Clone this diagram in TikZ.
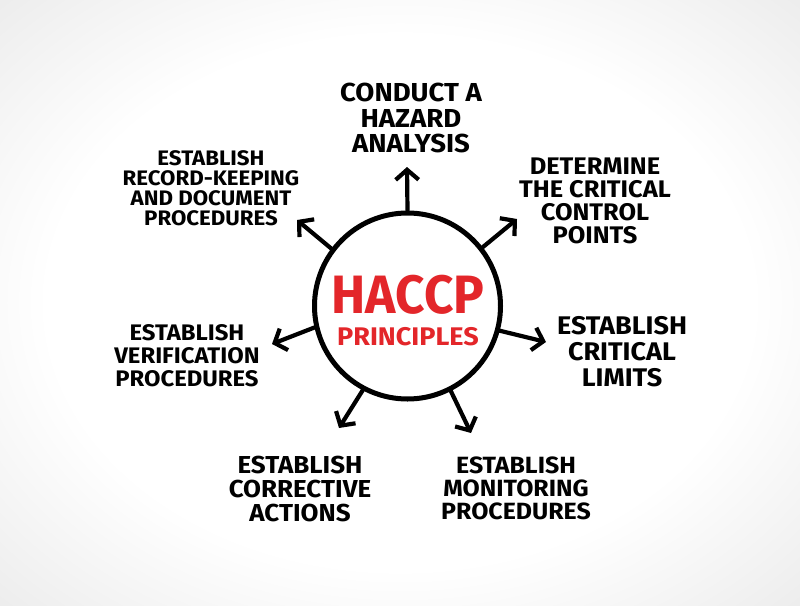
\documentclass[tikz,border=0pt]{standalone}
\usepackage{fontspec}
\setmainfont{Fira Sans}[FakeStretch=1.06]
\newfontfamily\redfont{Fira Sans}[FakeStretch=0.95]
\usetikzlibrary{arrows.meta}
\definecolor{hred}{HTML}{E3262A}
\pgfdeclareradialshading{bgshade}{\pgfpoint{0bp}{0bp}}{color(0bp)=(white); color(22bp)=(white); color(50bp)=(black!15); color(100bp)=(black!20)}
\begin{document}
\begin{tikzpicture}[x=1pt,y=-1pt,
  lbl/.style={align=center, inner sep=0pt, text=black, font=\bfseries},
  arr/.style={line width=4.2pt, line cap=round, line join=round, -{Straight Barb[length=10pt,width=23pt]}},
]
\useasboundingbox (0,0) rectangle (800,605);
\shade[shading=bgshade] (0,0) rectangle (800,605);
\node[circle, draw, line width=5pt, minimum size=186pt, inner sep=0pt, fill=white] (c) at (407.5,306) {};
\node[lbl, text=hred, anchor=base, text height=37pt, text depth=0pt, font=\redfont\bfseries\fontsize{54}{54}\selectfont] (h) at (408,313) {HACCP};
\node[lbl, text=hred, anchor=base, text height=18pt, text depth=0pt, font=\bfseries\fontsize{25.5}{26}\selectfont] (p) at (408,345) {PRINCIPLES};

\node[lbl, font=\bfseries\fontsize{26}{25.5}\selectfont] (t1) at (411,118) {CONDUCT A\\HAZARD\\ANALYSIS};
\node[lbl, font=\bfseries\fontsize{21}{20}\selectfont] (t2) at (211,188) {ESTABLISH\\RECORD-KEEPING\\AND DOCUMENT\\PROCEDURES};
\node[lbl, font=\bfseries\fontsize{24}{23}\selectfont] (t3) at (595,201) {DETERMINE\\THE CRITICAL\\CONTROL\\POINTS};
\node[lbl, font=\bfseries\fontsize{25.5}{26}\selectfont] (t4) at (622,352) {ESTABLISH\\CRITICAL\\LIMITS};
\node[lbl, font=\bfseries\fontsize{22.5}{23}\selectfont] (t5) at (187,356) {ESTABLISH\\VERIFICATION\\PROCEDURES};
\node[lbl, font=\bfseries\fontsize{24.5}{24}\selectfont] (t6) at (300,489) {ESTABLISH\\CORRECTIVE\\ACTIONS};
\node[lbl, font=\bfseries\fontsize{23.5}{23}\selectfont] (t7) at (516,488) {ESTABLISH\\MONITORING\\PROCEDURES};

\coordinate (a1) at (407,167);
\coordinate (a2) at (517,219);
\coordinate (a3) at (546,342);
\coordinate (a4) at (471,433);
\coordinate (a5) at (339,428);
\coordinate (a6) at (272,344);
\coordinate (a7) at (297,220);

\draw[arr] (c.90) -- (a1);
\draw[arr] (c.38) -- (a2);
\draw[arr] (c.-15) -- (a3);
\draw[arr] (c.-63) -- (a4);
\draw[arr] (c.-118) -- (a5);
\draw[arr] (c.193) -- (a6);
\draw[arr] (c.143) -- (a7);
\end{tikzpicture}
\end{document}
